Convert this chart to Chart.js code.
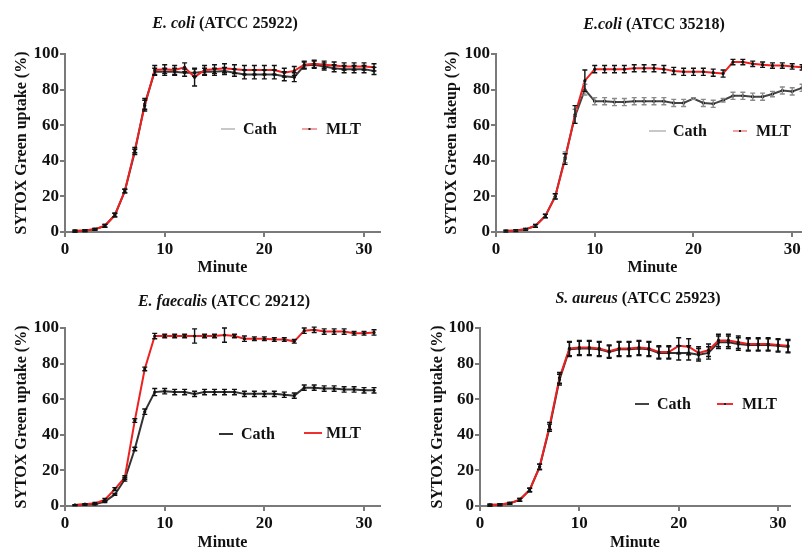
<!DOCTYPE html>
<html>
<head>
<meta charset="utf-8">
<script src="https://cdn.jsdelivr.net/npm/chart.js@4.4.1/dist/chart.umd.min.js"></script>
<style>
  html, body { margin: 0; padding: 0; background: #fff; }
  body { width: 802px; height: 549px; overflow: hidden; position: relative; }
  .box { position: absolute; }
  .ttl {
    position: absolute; transform: translate(-50%, -50%);
    font: bold 16px "Liberation Serif", serif; color: #111; white-space: nowrap;
  }
</style>
</head>
<body>
<div class="box" id="b1"><canvas id="c1"></canvas></div>
<div class="box" id="b2"><canvas id="c2"></canvas></div>
<div class="box" id="b3"><canvas id="c3"></canvas></div>
<div class="box" id="b4"><canvas id="c4"></canvas></div>
<div class="ttl" style="left:225px;top:23px"><i>E. coli</i> (ATCC 25922)</div>
<div class="ttl" style="left:654px;top:24px"><i>E.coli</i> (ATCC 35218)</div>
<div class="ttl" style="left:224px;top:301px"><i>E. faecalis</i> (ATCC 29212)</div>
<div class="ttl" style="left:638px;top:298px"><i>S. aureus</i> (ATCC 25923)</div>
<script>
// time points (minutes)
const minutes = [1,2,3,4,5,6,7,8,9,10,11,12,13,14,15,16,17,18,19,20,21,22,23,24,25,26,27,28,29,30,31];
const xTicks = [0, 10, 20, 30];
const yTicks = [0, 20, 40, 60, 80, 100];

// E. coli ATCC 25922
const cath1 = [0.5,0.8,1.5,3.5,9.5,23,45,72,90,90,90,89.5,89.5,90,90,90.5,89.5,88.5,88.5,88.5,88.5,87.5,87,93.5,94,93,92,91.5,91.5,91.5,90.5];
const cath1Err = [0.5,0.5,0.5,0.8,1,1,1.5,3,2,2,2,2,2,2,2,2,2,2.5,2.5,2.5,2.5,2.5,2.5,2,2,2,2,2,2,2,2];
const mlt1 = [0.5,0.8,1.5,3.5,9.5,23,46,71,91,91.5,91,92.5,87,91,91.5,92,91.5,91,91,91,91,89.5,90.5,94,94.5,94,93.5,93,93,93,92.5];
const mlt1Err = [0.5,0.5,0.5,0.8,1,1,1.5,3,2.5,2.5,2.5,2.5,5,2.5,2.5,2.5,2.5,2.5,2.5,2.5,2.5,2.5,2.5,2,2,2,2,2,2,2,2];

// E. coli ATCC 35218
const cath2 = [0.5,0.8,1.5,3.5,9,20,42,65,80,73.5,73.5,73,73,73.5,73.5,73.5,73.5,72.5,72.5,75,72.5,72,74,76.5,76.5,76,76,77.5,79.5,79,81];
const cath2Err = [0.5,0.5,0.5,0.8,1,1.5,3,4,3,2,2,2,2,2,2,2,2,2,2,0.5,2,2,1,2,2,2,2,1.5,2,2,2];
const mlt2 = [0.5,0.8,1.5,3.5,9,20,41,66,85,91.5,91.5,91.5,91.5,92,92,92,91.5,90.5,90,90,90,89.5,89,95.5,95.5,94.5,94,93.5,93.5,93,92.5];
const mlt2Err = [0.5,0.5,0.5,0.8,1,1.5,3,5,6,2,2,2,2,2,2,2,2,2,2,2,2,2,2,1.5,1.5,1.5,1.5,1.5,1.5,1.5,1.5];

// E. faecalis ATCC 29212
const cath3 = [0.5,0.8,1,2.5,6.5,15,32,53,64,64.5,64,64,63,64,64,64,64,63,63,63,63,62.5,62,66.5,66.5,66,66,65.5,65.5,65,65];
const cath3Err = [0.3,0.3,0.3,0.5,0.5,1,1,1.5,2,1.5,1.5,1.5,1.5,1.5,1.5,1.5,1.5,1.5,1.5,1.5,1.5,1.5,1.5,1.5,1.5,1.5,1.5,1.5,1.5,1.5,1.5];
const mlt3 = [0.5,1,1.5,3.5,9.5,16,48,77,95.5,95.5,95.5,95.5,95.5,95.5,95.5,96,95.5,94,94,94,93.5,93.5,92.5,98.5,99,98,98,98,97,97,97.5];
const mlt3Err = [0.3,0.3,0.5,0.8,0.8,1,1,1,1.5,1,1,1,4,1,1,4,1,1.5,1,1,1,1,1,1.5,1.5,1.5,1.5,1.5,1,1,1.5];

// S. aureus ATCC 25923
const cath4 = [0.5,0.8,1.5,3.5,9,22,44,71,88,88.5,88.5,88,86.5,88,88,88.5,88,86,86,86,86,85,86,92,92,91,90.5,90.5,90.5,90,89.5];
const cath4Err = [0.5,0.5,0.5,0.8,1,1.5,2,3,4,4,4,4,3.5,4,4,4,4,3.5,3.5,4,4,3.5,3.5,3.5,3.5,3.5,3.5,3.5,3.5,3.5,3.5];
const mlt4 = [0.5,0.8,1.5,3.5,9,22,45,72,88.5,89,89,88.5,87,88.5,88.5,89,88.5,86.5,86.5,90,89.5,86,87.5,93,93,92,91,91,91,90.5,90];
const mlt4Err = [0.5,0.5,0.5,0.8,1,1.5,2,3,4,4,4,4,3.5,4,4,4,4,3.5,3.5,4.5,4.5,3.5,3.5,3.5,3.5,3.5,3.5,3.5,3.5,3.5,3.5];

const FONT = '"Liberation Serif", serif';
const AXIS = '#7a7a7a';

// vertical error bars with caps
const errorBars = {
  id: 'errorBars',
  afterDatasetsDraw(chart) {
    const ctx = chart.ctx, xs = chart.scales.x, ys = chart.scales.y;
    ctx.save();
    chart.data.datasets.forEach(ds => {
      if (!ds.errors) return;
      ctx.strokeStyle = ds.errorColor || '#000';
      ctx.lineWidth = 1.4;
      ds.data.forEach((p, i) => {
        const e = ds.errors[i];
        const x = xs.getPixelForValue(p.x);
        const y1 = ys.getPixelForValue(p.y - e), y2 = ys.getPixelForValue(p.y + e);
        ctx.beginPath();
        ctx.moveTo(x, y1); ctx.lineTo(x, y2);
        ctx.moveTo(x - 2.5, y1); ctx.lineTo(x + 2.5, y1);
        ctx.moveTo(x - 2.5, y2); ctx.lineTo(x + 2.5, y2);
        ctx.stroke();
      });
    });
    ctx.restore();
  }
};

// legend placed inside the plot as in the figure
const innerLegend = {
  id: 'innerLegend',
  afterDraw(chart, args, opts) {
    const ctx = chart.ctx;
    ctx.save();
    ctx.font = 'bold 16px ' + FONT;
    ctx.textBaseline = 'middle';
    opts.items.forEach(it => {
      ctx.strokeStyle = it.color;
      ctx.lineWidth = 2;
      ctx.beginPath();
      ctx.moveTo(it.x1, it.y); ctx.lineTo(it.x2, it.y);
      ctx.stroke();
      if (it.dot) {
        ctx.fillStyle = '#222';
        ctx.fillRect((it.x1 + it.x2) / 2 - 1, it.y - 1, 2, 2);
      }
      ctx.fillStyle = '#111';
      ctx.fillText(it.text, it.tx, it.y + 1);
    });
    ctx.restore();
  }
};

function pts(vals) {
  return minutes.map((m, i) => ({ x: m, y: vals[i] }));
}

function makeChart(id, box, plot, series, legendItems, xMax, yTitlePad, xTitlePad, yLabel) {
  const b = document.getElementById('b' + id);
  b.style.left = box.left + 'px'; b.style.top = box.top + 'px';
  b.style.width = box.width + 'px'; b.style.height = box.height + 'px';
  const yW = plot.L - box.left;
  const xH = box.top + box.height - plot.B;
  const axis = {
    border: { display: true, color: AXIS, width: 2 },
    grid: { display: true, drawOnChartArea: false, drawTicks: true, tickLength: 5, color: AXIS, lineWidth: 2 },
  };
  new Chart(document.getElementById('c' + id), {
    type: 'line',
    data: {
      datasets: series.map(s => ({
        label: s.label,
        data: pts(s.values),
        errors: s.errors,
        errorColor: s.errorColor,
        borderColor: s.color,
        borderWidth: 2,
        pointRadius: 1.6,
        pointBackgroundColor: '#111',
        pointBorderWidth: 0,
        tension: 0,
        order: s.order,
      }))
    },
    options: {
      responsive: true,
      maintainAspectRatio: false,
      animation: false,
      layout: { padding: { top: plot.T - box.top, right: box.left + box.width - plot.R, left: 0, bottom: 0 } },
      plugins: {
        legend: { display: false },
        tooltip: { enabled: false },
        innerLegend: { items: legendItems.map(it => ({ ...it, x1: it.x1 - box.left, x2: it.x2 - box.left, tx: it.tx - box.left, y: it.y - box.top })) },
      },
      scales: {
        x: {
          type: 'linear', min: 0, max: xMax,
          afterBuildTicks: s => { s.ticks = xTicks.map(v => ({ value: v })); },
          afterFit: s => { s.height = xH; },
          ticks: { font: { family: FONT, size: 17, weight: 'bold' }, color: '#111', padding: 2 },
          title: { display: true, text: 'Minute', font: { family: FONT, size: 16, weight: 'bold' }, color: '#111', padding: { top: 0, bottom: xTitlePad } },
          ...axis,
        },
        y: {
          type: 'linear', min: 0, max: 100,
          afterBuildTicks: s => { s.ticks = yTicks.map(v => ({ value: v })); },
          afterFit: s => { s.width = yW; },
          ticks: { font: { family: FONT, size: 17, weight: 'bold' }, color: '#111', padding: 1 },
          title: { display: true, text: yLabel, font: { family: FONT, size: 16, weight: 'bold' }, color: '#111', padding: { top: yTitlePad, bottom: 0 } },
          ...axis,
        }
      }
    },
    plugins: [errorBars, innerLegend]
  });
}

makeChart(1, { left: 0, top: 30, width: 400, height: 250 }, { L: 65, T: 54, R: 380, B: 232 }, [
  { label: 'Cath', values: cath1, errors: cath1Err, color: '#3a3a3a', errorColor: '#111', order: 1 },
  { label: 'MLT', values: mlt1, errors: mlt1Err, color: '#ee2020', errorColor: '#111', order: 0 },
], [
  { text: 'Cath', color: '#c8c8c8', x1: 221, x2: 235, tx: 243, y: 129 },
  { text: 'MLT', color: '#f2a0a0', dot: true, x1: 302, x2: 317, tx: 326, y: 129 },
], 31.6, 12.4, 2.4, 'SYTOX Green uptake (%)');

makeChart(2, { left: 400, top: 30, width: 420, height: 250 }, { L: 496, T: 54, R: 809, B: 232 }, [
  { label: 'Cath', values: cath2, errors: cath2Err, color: '#444', errorColor: '#8a8a8a', order: 1 },
  { label: 'MLT', values: mlt2, errors: mlt2Err, color: '#ee2020', errorColor: '#111', order: 0 },
], [
  { text: 'Cath', color: '#c8c8c8', x1: 649, x2: 666, tx: 673, y: 131 },
  { text: 'MLT', color: '#f2a0a0', dot: true, x1: 733, x2: 747, tx: 756, y: 131 },
], 31.7, 42.4, 2.4, 'SYTOX Green takeup (%)');

makeChart(3, { left: 0, top: 300, width: 400, height: 255 }, { L: 65, T: 328, R: 380, B: 506 }, [
  { label: 'Cath', values: cath3, errors: cath3Err, color: '#333', errorColor: '#111', order: 1 },
  { label: 'MLT', values: mlt3, errors: mlt3Err, color: '#ee2020', errorColor: '#111', order: 0 },
], [
  { text: 'Cath', color: '#333', x1: 219, x2: 233, tx: 241, y: 434 },
  { text: 'MLT', color: '#ee3030', x1: 304, x2: 322, tx: 326, y: 433 },
], 31.6, 12.4, 2.4, 'SYTOX Green uptake (%)');

makeChart(4, { left: 400, top: 300, width: 402, height: 255 }, { L: 480, T: 328, R: 790, B: 506 }, [
  { label: 'Cath', values: cath4, errors: cath4Err, color: '#333', errorColor: '#111', order: 1 },
  { label: 'MLT', values: mlt4, errors: mlt4Err, color: '#ee2020', errorColor: '#111', order: 0 },
], [
  { text: 'Cath', color: '#444', x1: 635, x2: 649, tx: 657, y: 404 },
  { text: 'MLT', color: '#ee3030', dot: true, x1: 717, x2: 733, tx: 742, y: 404 },
], 31.2, 28.4, 2.4, 'SYTOX Green uptake (%)');
</script>
</body>
</html>
